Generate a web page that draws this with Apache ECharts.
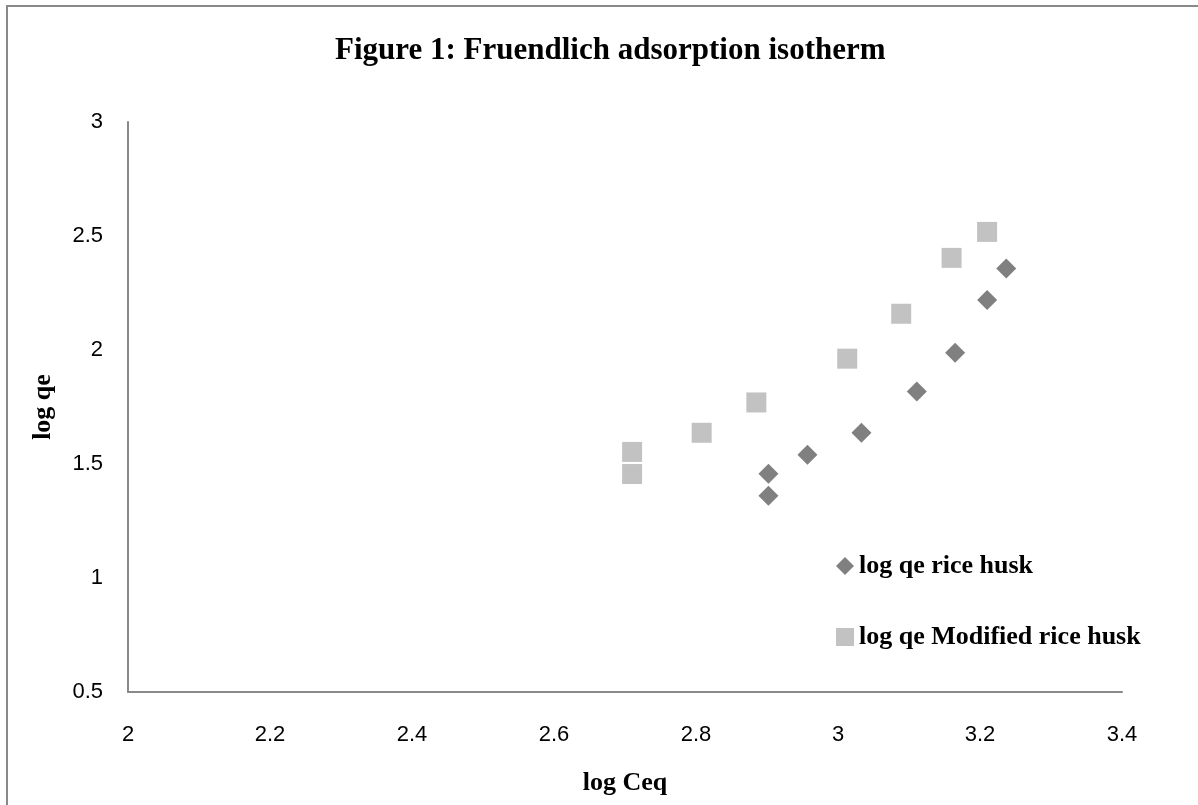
<!DOCTYPE html>
<html>
<head>
<meta charset="utf-8">
<script src="https://cdn.jsdelivr.net/npm/echarts@6/dist/echarts.min.js"></script>
<style>
  html, body { margin: 0; padding: 0; background: #fff; }
  #frame { position: absolute; left: 6px; top: 5px; width: 1192px; height: 800px;
           border-left: 2px solid #898989; border-top: 2px solid #898989; }
  #chart { position: absolute; left: 0; top: 0; width: 1198px; height: 805px; }
</style>
</head>
<body>
<div id="frame"></div>
<div id="chart"></div>
<script>
// log Ceq / log qe
var riceHuskX = [2.902, 2.902, 2.957, 3.033, 3.111, 3.165, 3.210, 3.237]
var riceHuskY = [1.361, 1.457, 1.541, 1.637, 1.818, 1.988, 2.219, 2.357]
var modifiedX = [2.710, 2.710, 2.808, 2.885, 3.013, 3.089, 3.160, 3.210]
var modifiedY = [1.456, 1.553, 1.637, 1.770, 1.962, 2.159, 2.404, 2.518]

function pairs (xs, ys) {
  return xs.map(function (x, i) { return [x, ys[i]] })
}

var serif = '"Liberation Serif", "Times New Roman", serif'
var sans = '"Liberation Sans", Arial, sans-serif'

var chart = echarts.init(document.getElementById('chart'))
chart.setOption({
  animation: false,
  title: {
    text: 'Figure 1: Fruendlich adsorption isotherm',
    left: 330,
    top: 30,
    textStyle: { fontFamily: serif, fontWeight: 'bold', fontSize: 31, color: '#000' }
  },
  legend: {
    orient: 'vertical',
    left: 831,
    top: 548,
    itemWidth: 18,
    itemHeight: 18,
    itemGap: 45,
    textStyle: { fontFamily: serif, fontWeight: 'bold', fontSize: 26, color: '#000' },
    data: [
      { name: 'log qe rice husk', icon: 'diamond' },
      { name: 'log qe Modified rice husk', icon: 'rect' }
    ]
  },
  grid: { left: 128, top: 122, right: 76, bottom: 113 },
  xAxis: {
    type: 'value',
    min: 2,
    max: 3.4,
    interval: 0.2,
    name: 'log Ceq',
    nameLocation: 'middle',
    nameGap: 78,
    nameTextStyle: { fontFamily: serif, fontWeight: 'bold', fontSize: 26, color: '#000' },
    axisLine: { show: true, lineStyle: { color: '#898989', width: 2 } },
    axisTick: { show: false },
    splitLine: { show: false },
    axisLabel: { fontFamily: sans, fontSize: 22, color: '#000', margin: 32 }
  },
  yAxis: {
    type: 'value',
    min: 0.5,
    max: 3,
    interval: 0.5,
    name: 'log qe',
    nameLocation: 'middle',
    nameGap: 72,
    nameTextStyle: { fontFamily: serif, fontWeight: 'bold', fontSize: 26, color: '#000' },
    axisLine: { show: true, lineStyle: { color: '#898989', width: 2 } },
    axisTick: { show: false },
    splitLine: { show: false },
    axisLabel: { fontFamily: sans, fontSize: 22, color: '#000', margin: 25 }
  },
  series: [
    {
      name: 'log qe rice husk',
      type: 'scatter',
      symbol: 'diamond',
      symbolSize: 20,
      itemStyle: { color: '#606060' },
      data: pairs(riceHuskX, riceHuskY)
    },
    {
      name: 'log qe Modified rice husk',
      type: 'scatter',
      symbol: 'rect',
      symbolSize: 20,
      itemStyle: { color: '#b3b3b3' },
      data: pairs(modifiedX, modifiedY)
    }
  ]
})
</script>
</body>
</html>
